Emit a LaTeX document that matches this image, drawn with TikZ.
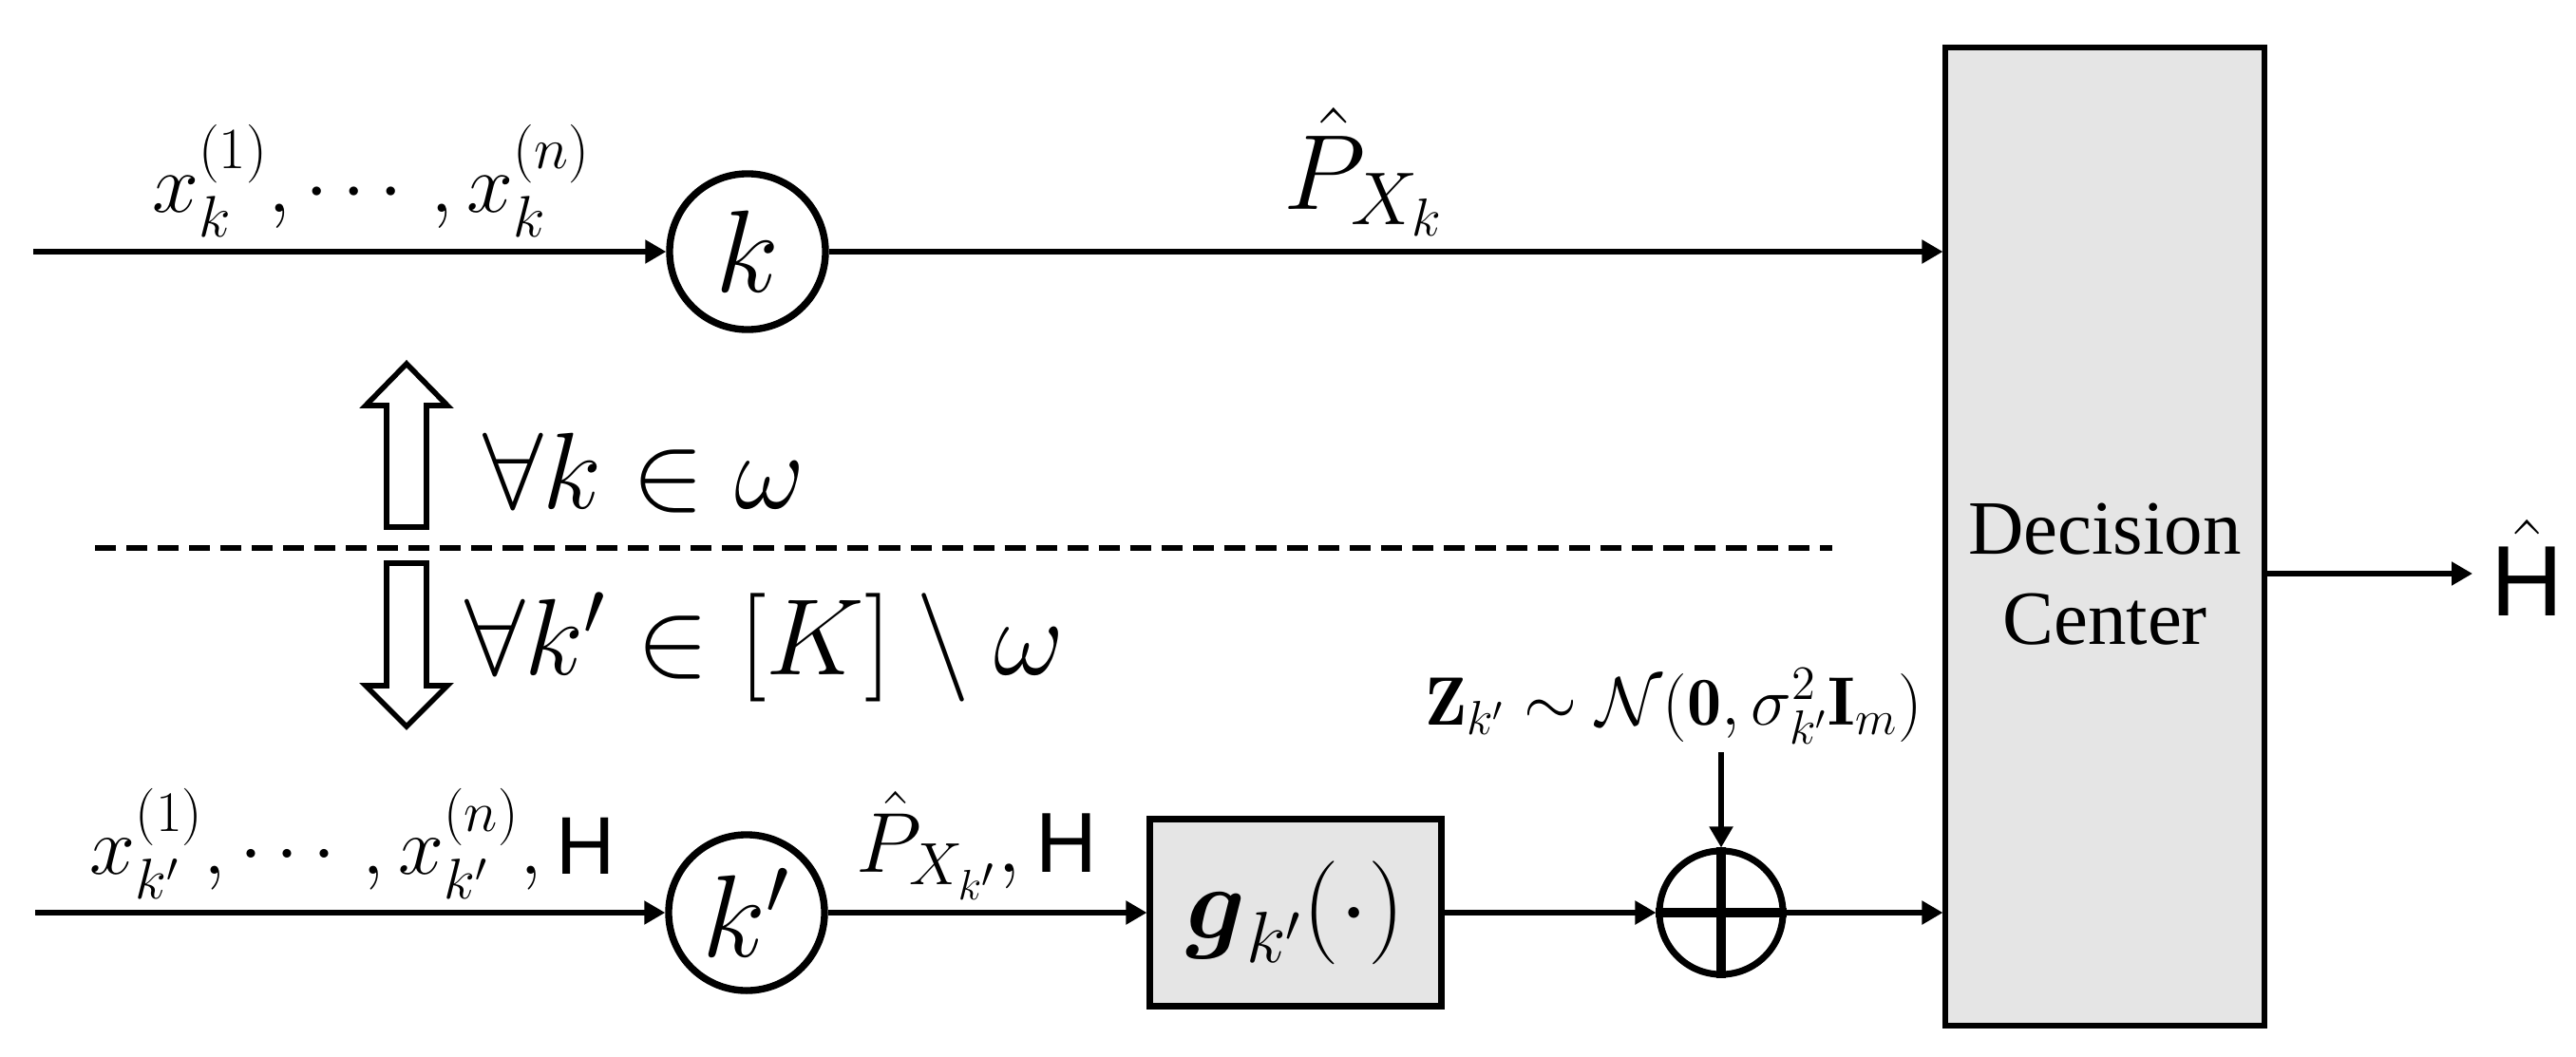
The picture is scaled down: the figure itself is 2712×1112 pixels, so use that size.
\RequirePackage{fix-cm}
\documentclass[tikz,border=0pt]{standalone}
\usepackage{amsmath,amssymb}
\usepackage{fontspec}
\setsansfont{Liberation Sans}
\newfontfamily\dcfont{Liberation Serif}
\usetikzlibrary{arrows.meta}
\newcommand{\fs}[1]{\fontsize{#1}{1.2\dimexpr#1pt\relax}\selectfont}
\tikzset{
  conn/.style={line width=1.45pt},
  arr/.style={conn,-{Triangle[length=0.22cm,width=0.24cm]}},
  nodecirc/.style={circle,draw,line width=2.1pt,minimum size=1.64cm,inner sep=0pt},
  greybox/.style={draw,fill=black!10,rectangle,inner sep=0pt},
  lbl/.style={inner sep=0pt,anchor=base},
  hollow/.style={draw,line width=1.6pt,line join=miter},
}
\begin{document}
\begin{tikzpicture}[x=0.01cm,y=-0.01cm]
\useasboundingbox (0,0) rectangle (2712,1112);
% nodes
\node[nodecirc] (k) at (787,265) {\fs{35}$k$};
\node[nodecirc] (kp) at (786,961) {\fs{35}$k'$};
\node[greybox,line width=2pt,minimum width=3.06cm,minimum height=1.97cm] (g) at (1364,961) {\fs{31}$\boldsymbol{g}_{k'}(\cdot)$};
\node[circle,draw,line width=2pt,minimum size=1.30cm,inner sep=0pt] (plus) at (1812,961) {};
\node[greybox,line width=1.7pt,minimum width=3.35cm,minimum height=10.29cm] (dc) at (2216,565) {};
\node[lbl] (dc1) at (2216,583) {\dcfont\fs{23}Decision};
\node[lbl] (dc2) at (2216,678) {\dcfont\fs{23}Center};
\node[lbl] (hhat) at (2661,648) {\fs{30}$\hat{\textsf{H}}$};
% labels
\node[lbl] (lx1) at (391,223) {\fs{25}$x_k^{(1)},\cdots,x_k^{(n)}$};
\node[lbl] (lp1) at (1436,220) {\fs{32}$\hat{P}_{X_k}$};
\node[lbl] (lx2) at (371,920) {\fs{24.5}$x_{k'}^{(1)},\cdots,x_{k'}^{(n)},\textsf{H}$};
\node[lbl] (lp2) at (1028,918) {\fs{25.5}$\hat{P}_{X_{k'}},\textsf{H}$};
\node[lbl] (lz) at (1762,763) {\fs{20.5}$\mathbf{Z}_{k'}\sim\mathcal{N}(\mathbf{0},\sigma_{k'}^2\mathbf{I}_m)$};
\node[lbl] (la1) at (678,535) {\fs{32.5}$\forall k\in\omega$};
\node[lbl] (la2) at (805,710) {\fs{32.5}$\forall k'\in[K]\setminus\omega$};
% free ends
\coordinate (in1) at (35,265);
\coordinate (in2) at (37,961);
\coordinate (zt) at (1812,792);
\coordinate (hend) at (2603,604);
% connectors
\draw[arr] (in1) -- (k.west);
\draw[arr] (k.east) -- (k.east -| dc.west);
\draw[arr] (in2) -- (kp.west);
\draw[arr] (kp.east) -- (g.west);
\draw[arr] (g.east) -- (plus.west);
\draw[arr] (plus.east) -- (plus.east -| dc.west);
\draw[arr] (zt) -- (plus.north);
\draw[arr] (hend -| dc.east) -- (hend);
% plus cross
\draw[line width=3.1pt] (plus.north) -- (plus.south) (plus.west) -- (plus.east);
% dashed separator
\draw[conn,dash pattern=on 0.22cm off 0.11cm] (100,577) -- (1929,577);
% hollow arrows
\draw[hollow] (428,383) -- (471,427) -- (449,427) -- (449,555) -- (407,555) -- (407,427) -- (385,427) -- cycle;
\draw[hollow] (407,593) -- (449,593) -- (449,722) -- (471,722) -- (428,765) -- (385,722) -- (407,722) -- cycle;
\end{tikzpicture}
\end{document}
